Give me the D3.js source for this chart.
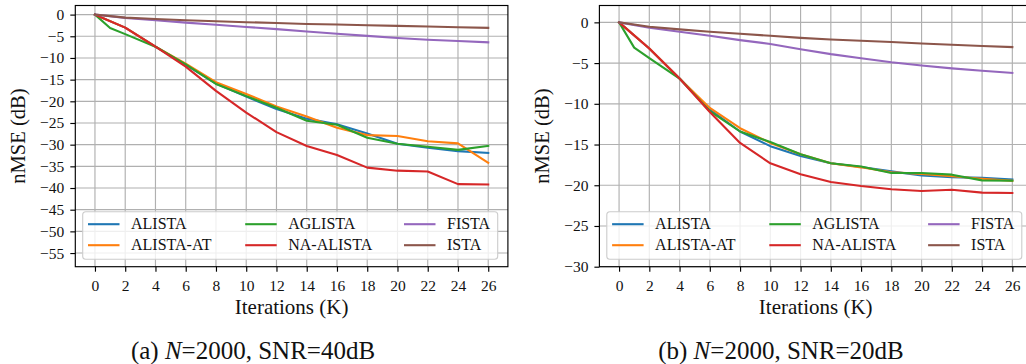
<!DOCTYPE html>
<html>
<head>
<meta charset="utf-8">
<script src="https://cdn.jsdelivr.net/npm/d3@7"></script>
<style>
  body { margin: 0; background: #fff; }
  svg { display: block; }
  svg text { font-family: "Liberation Serif", "DejaVu Serif", serif; }
</style>
</head>
<body>
<svg id="chart" width="1026" height="364"></svg>
<script>
// iterations (K) -- AGLISTA also has a point at 1K
const iters = [0, 2, 4, 6, 8, 10, 12, 14, 16, 18, 20, 22, 24, 26];
const itersAG = [0, 1, 2, 4, 6, 8, 10, 12, 14, 16, 18, 20, 22, 24, 26];

const names = ["ALISTA", "ALISTA-AT", "AGLISTA", "NA-ALISTA", "FISTA", "ISTA"];
const colors = ["#1f77b4", "#ff7f0e", "#2ca02c", "#d62728", "#9467bd", "#8c564b"];

// (a) SNR = 40dB
const alistaA   = [0, -3.0, -7.4, -11.6, -15.9, -18.9, -21.8, -24.0, -25.3, -27.4, -29.8, -30.7, -31.5, -31.9];
const alistaAtA = [0, -3.0, -7.4, -11.3, -15.6, -18.3, -21.2, -23.5, -26.1, -27.8, -28.0, -29.2, -29.7, -34.2];
const aglistaA  = [0, -3.1, -4.5, -7.4, -11.5, -16.0, -18.8, -21.5, -24.5, -25.4, -28.4, -29.8, -30.5, -31.2, -30.3];
const naA       = [0, -3.0, -7.4, -12.0, -17.6, -22.6, -27.1, -30.3, -32.4, -35.3, -36.0, -36.2, -39.1, -39.2];
const fistaA    = [0, -0.75, -1.3, -1.85, -2.35, -2.85, -3.35, -3.9, -4.4, -4.9, -5.4, -5.8, -6.1, -6.4];
const istaA     = [0, -0.7, -1.0, -1.3, -1.55, -1.75, -1.95, -2.15, -2.3, -2.45, -2.6, -2.75, -2.9, -3.05];

// (b) SNR = 20dB
const alistaB   = [0, -3.2, -6.9, -10.7, -13.4, -15.2, -16.4, -17.3, -17.75, -18.3, -18.8, -19.0, -19.1, -19.3];
const alistaAtB = [0, -3.2, -6.9, -10.5, -13.0, -14.8, -16.2, -17.3, -17.8, -18.4, -18.6, -18.9, -19.2, -19.45];
const aglistaB  = [0, -3.1, -4.4, -6.9, -10.9, -13.4, -14.7, -16.2, -17.3, -17.7, -18.5, -18.5, -18.7, -19.4, -19.45];
const naB       = [0, -3.2, -6.9, -11.0, -14.8, -17.3, -18.65, -19.6, -20.1, -20.5, -20.7, -20.55, -20.9, -20.95];
const fistaB    = [0, -0.66, -1.15, -1.65, -2.18, -2.65, -3.3, -3.9, -4.4, -4.9, -5.3, -5.65, -5.95, -6.2];
const istaB     = [0, -0.54, -0.86, -1.15, -1.4, -1.65, -1.9, -2.1, -2.26, -2.42, -2.59, -2.75, -2.9, -3.04];

const xTicks = d3.range(0, 27, 2);
const yTicksA = d3.range(-55, 1, 5);
const yTicksB = d3.range(-30, 1, 5);

const svg = d3.select("#chart");
const minus = (v) => (v < 0 ? "\u2212" + Math.abs(v) : "" + v);
const serif = '"Liberation Serif", "DejaVu Serif", serif';

function drawPanel(opts) {
  const left = opts.left, top = 5.5, w = 432.6, h = 261.2;
  const g = svg.append("g").attr("transform", `translate(${left},${top})`);

  const x = d3.scaleLinear().domain([-1.3, 27.3]).range([0, w]);
  const y = d3.scaleLinear().domain(opts.yDomain).range([h, 0]);

  // grid
  g.append("g").selectAll("line").data(xTicks).join("line")
    .attr("x1", (d) => x(d)).attr("x2", (d) => x(d))
    .attr("y1", 0).attr("y2", h)
    .attr("stroke", "#b0b0b0").attr("stroke-width", 1.15);
  g.append("g").selectAll("line").data(opts.yTicks).join("line")
    .attr("x1", 0).attr("x2", w)
    .attr("y1", (d) => y(d)).attr("y2", (d) => y(d))
    .attr("stroke", "#b0b0b0").attr("stroke-width", 1.15);

  // series
  const line = d3.line().x((d) => x(d[0])).y((d) => y(d[1]));
  opts.series.forEach((s, i) => {
    const xs = s.length === itersAG.length ? itersAG : iters;
    g.append("path")
      .datum(s.map((v, j) => [xs[j], v]))
      .attr("d", line)
      .attr("fill", "none")
      .attr("stroke", colors[i])
      .attr("stroke-width", 2.1)
      .attr("stroke-linejoin", "round")
      .attr("stroke-linecap", "square");
  });

  // axes
  const xAxis = g.append("g").attr("transform", `translate(0,${h})`)
    .call(d3.axisBottom(x).tickValues(xTicks).tickSize(5).tickPadding(6));
  const yAxis = g.append("g")
    .call(d3.axisLeft(y).tickValues(opts.yTicks).tickSize(5).tickPadding(6).tickFormat(minus));
  [xAxis, yAxis].forEach((a) => {
    a.attr("font-family", null);
    a.select(".domain").remove();
    a.selectAll("line").attr("stroke", "#000").attr("stroke-width", 1.15);
    a.selectAll("text").style("font-family", serif).attr("font-size", 15.5).attr("fill", "#111");
  });
  xAxis.selectAll("text").attr("dy", "0.84em");

  // frame
  g.append("rect").attr("width", w).attr("height", h)
    .attr("fill", "none").attr("stroke", "#000").attr("stroke-width", 1.15);

  // legend
  const lg = g.append("g").attr("transform", `translate(7.4,${h - 55})`);
  lg.append("rect").attr("width", 415).attr("height", 47.5).attr("rx", 3)
    .attr("fill", "#fff").attr("fill-opacity", 0.8)
    .attr("stroke", "#cccccc").attr("stroke-width", 1.1);
  const colX = [5.3, 162.5, 321.3];
  names.forEach((n, i) => {
    const cx = colX[Math.floor(i / 2)];
    const cy = 12.5 + (i % 2) * 21;
    lg.append("line").attr("x1", cx).attr("x2", cx + 31.5)
      .attr("y1", cy).attr("y2", cy)
      .attr("stroke", colors[i]).attr("stroke-width", 2.1);
    lg.append("text").attr("x", cx + 43).attr("y", cy + 5.3)
      .style("font-family", serif)
      .attr("font-size", 16).attr("fill", "#111").text(n);
  });

  // axis labels
  g.append("text").attr("x", w / 2).attr("y", 314 - top)
    .style("font-family", serif)
    .attr("text-anchor", "middle").attr("font-size", 21).attr("fill", "#111")
    .text("Iterations (K)");
  g.append("text")
    .attr("transform", `translate(-50,${h / 2}) rotate(-90)`)
    .style("font-family", serif)
    .attr("text-anchor", "middle").attr("font-size", 20.5).attr("fill", "#111")
    .text("nMSE (dB)");

  // caption
  const cap = svg.append("text").attr("x", opts.capX).attr("y", 358.5)
    .style("font-family", serif)
    .attr("text-anchor", "middle").attr("font-size", 25).attr("fill", "#111");
  cap.append("tspan").text(opts.capPre);
  cap.append("tspan").attr("font-style", "italic").text("N");
  cap.append("tspan").text(opts.capPost);
}

drawPanel({
  left: 75.3,
  yDomain: [-58.15, 2.1],
  yTicks: yTicksA,
  series: [alistaA, alistaAtA, aglistaA, naA, fistaA, istaA],
  capX: 253, capPre: "(a) ", capPost: "=2000, SNR=40dB"
});
drawPanel({
  left: 599.4,
  yDomain: [-30, 2.07],
  yTicks: yTicksB,
  series: [alistaB, alistaAtB, aglistaB, naB, fistaB, istaB],
  capX: 781, capPre: "(b) ", capPost: "=2000, SNR=20dB"
});
</script>
</body>
</html>
